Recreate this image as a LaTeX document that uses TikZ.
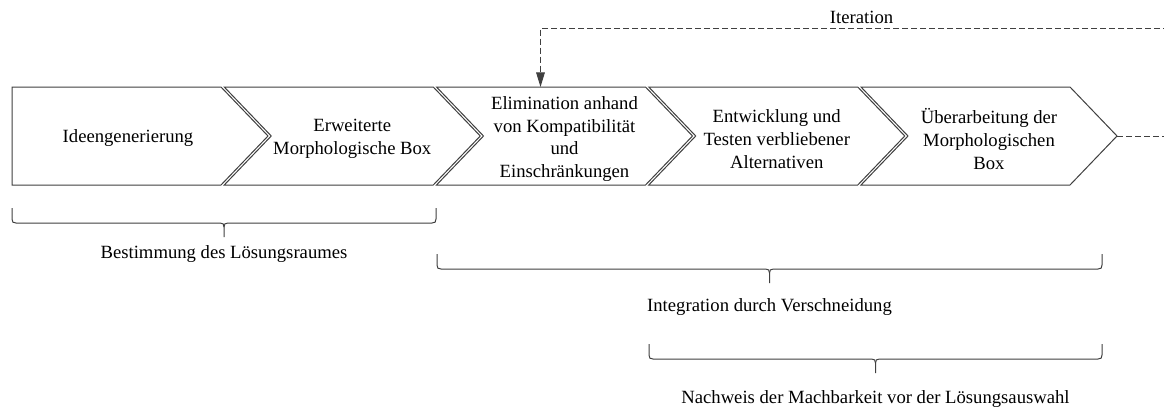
\documentclass[tikz,border=0pt]{standalone}
\usepackage{fontspec}
\setmainfont{Liberation Serif}
\usetikzlibrary{arrows.meta,positioning}
\definecolor{Linie}{RGB}{64,64,64}

\begin{document}
\begin{tikzpicture}[x=0.75pt,y=-0.75pt,
    schritt/.style={draw=Linie, fill=white, line width=0.75pt, line join=miter},
    schrifttext/.style={align=center, inner sep=0pt, font=\fontsize{14}{17}\selectfont},
    klammer/.style={draw=Linie, line width=0.75pt},
    iterpfeil/.style={draw=Linie, line width=0.75pt, dash pattern=on 4.5pt off 2.25pt,
        -{Triangle[length=11pt,width=6.5pt]}}]
    % Canvas (pixel units, y pointing down)
    \fill[white] (0,0) rectangle (1164,407);
    \useasboundingbox (0,0) rectangle (1164,407);
    \clip (0,0) rectangle (1164,407);

    % Process chevrons: pitch 212.25, body 209, point depth 47
    \foreach \i/\txt in {1/{Ideengenerierung},
                         2/{Erweiterte\\Morphologische Box},
                         3/{Elimination anhand\\von Kompatibilität\\und\\Einschränkungen},
                         4/{Entwicklung und\\Testen verbliebener\\Alternativen},
                         5/{Überarbeitung der\\Morphologischen\\Box}} {
        \pgfmathsetmacro{\xs}{12+212.25*(\i-1)}
        \ifnum\i=1
            % first step has a flat left edge, text sits further left
            \draw[schritt] (\xs,87) -- (\xs+209,87) -- (\xs+256,136) -- (\xs+209,185)
                -- (\xs,185) -- cycle;
            \node[schrifttext] (schritt\i) at (\xs+116,138) {\txt};
        \else
            \draw[schritt] (\xs,87) -- (\xs+209,87) -- (\xs+256,136) -- (\xs+209,185)
                -- (\xs,185) -- (\xs+47,136) -- cycle;
            \node[schrifttext] (schritt\i) at (\xs+128,139) {\txt};
        \fi
        \coordinate (spitze\i) at (\xs+256,136);
        \coordinate (oben\i) at (\xs+104,87);
    }

    % Feedback loop from the last step back into step 3
    \coordinate (rueck) at (1170,28);
    \coordinate (rueckziel) at (oben3 |- rueck);
    \draw[iterpfeil] (spitze5) -| (rueck)
        -- node[pos=0.49, above=3pt, schrifttext] (iteration) {Iteration} (rueckziel)
        -- (oben3);

    % Curly brackets below the steps
    \foreach \xa/\xb/\yl/\nm in {12/436/223/raum, 437/1102/269/integration, 649/1102/359/nachweis} {
        \pgfmathsetmacro{\xm}{(\xa+\xb)/2}
        \draw[klammer] (\xa,\yl-15) -- (\xa,\yl-4) .. controls (\xa,\yl-1) and (\xa+1,\yl) .. (\xa+4,\yl)
            -- (\xm-4,\yl) .. controls (\xm-1,\yl) and (\xm,\yl+1) .. (\xm,\yl+4) -- (\xm,\yl+14);
        \draw[klammer] (\xm,\yl+4) .. controls (\xm,\yl+1) and (\xm+1,\yl) .. (\xm+4,\yl)
            -- (\xb-4,\yl) .. controls (\xb-1,\yl) and (\xb,\yl-1) .. (\xb,\yl-4) -- (\xb,\yl-15);
        \coordinate (\nm) at (\xm,\yl+14);
    }

    % Bracket labels
    \node[schrifttext, anchor=base] (raumtext) at (224,258) {Bestimmung des Lösungsraumes};
    \node[schrifttext, anchor=base] (integrationtext) at (769.5,311) {Integration durch Verschneidung};
    \node[schrifttext, anchor=base] (nachweistext) at (875.5,403) {Nachweis der Machbarkeit vor der Lösungsauswahl};
\end{tikzpicture}
\end{document}
